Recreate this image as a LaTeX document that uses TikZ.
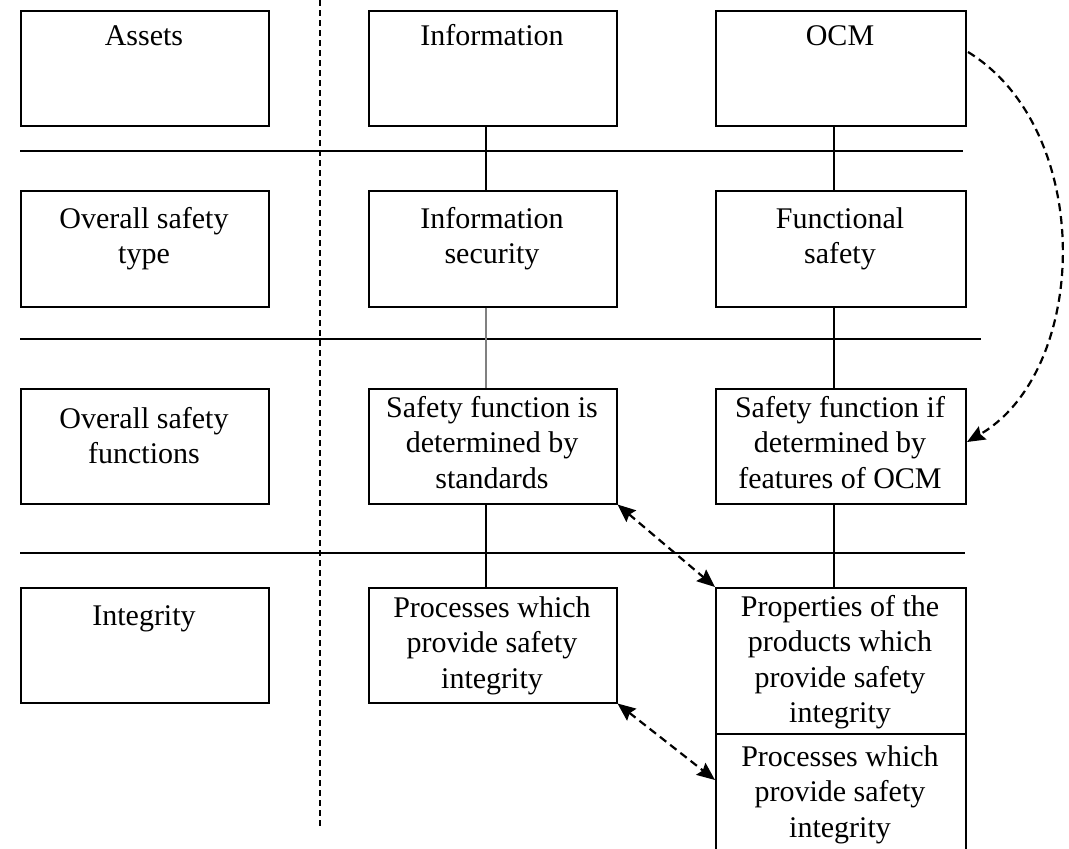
\documentclass[tikz,border=0pt]{standalone}
\usepackage{fontspec}
\setmainfont{Liberation Serif}
\usetikzlibrary{arrows.meta}
\begin{document}
\begin{tikzpicture}[x=1pt,y=-1pt,
  box/.style={draw, line width=1.5pt, rectangle, anchor=north west, inner sep=0pt,
              minimum height=115pt},
  narrow/.style={minimum width=248pt},
  wide/.style={minimum width=250pt},
  lbl/.style={anchor=north, align=center, inner sep=0pt,
              font=\fontsize{30}{35.5}\selectfont},
  rule/.style={line width=1.5pt},
  link/.style={line width=1.5pt},
  dashlink/.style={line width=2.2pt, dash pattern=on 8pt off 5pt},
  headend/.style={-{Stealth[length=18pt,width=15pt,inset=2.5pt]}},
  headboth/.style={{Stealth[length=18pt,width=15pt,inset=2.5pt]}-{Stealth[length=18pt,width=15pt,inset=2.5pt]}},
 ]
\clip (0,0) rectangle (1069,849);
\fill[white] (0,0) rectangle (1069,849);

% separator between the label column and the two domains
\draw[line width=1.6pt, dash pattern=on 6pt off 4pt] (320,0) -- (320,828);

% horizontal row separators
\draw[rule] (20,151) -- (963,151);
\draw[rule] (20,339) -- (981,339);
\draw[rule] (20,553) -- (965,553);

% row 1: assets
\node[box, narrow] (a1) at (20,10) {};
\node[box, narrow] (a2) at (368,10) {};
\node[box, wide]   (a3) at (715,10) {};
\node[lbl] (ta1) at (144,20.15) {\strut Assets};
\node[lbl] (ta2) at (492,20.15) {\strut Information};
\node[lbl] (ta3) at (840,20.15) {\strut OCM};

% row 2: overall safety type
\node[box, narrow, minimum height=116pt] (b1) at (20,190) {};
\node[box, narrow, minimum height=116pt] (b2) at (368,190) {};
\node[box, wide, minimum height=116pt]   (b3) at (715,190) {};
\node[lbl] (tb1) at (144,203.15) {\strut Overall safety\\type};
\node[lbl] (tb2) at (492,203.15) {\strut Information\\security};
\node[lbl] (tb3) at (840,203.15) {\strut Functional\\safety};

% row 3: overall safety functions
\node[box, narrow] (c1) at (20,388) {};
\node[box, narrow] (c2) at (368,388) {};
\node[box, wide]   (c3) at (715,388) {};
\node[lbl] (tc1) at (144,403.15) {\strut Overall safety\\functions};
\node[lbl] (tc2) at (492,392.15) {\strut Safety function is\\determined by\\standards};
\node[lbl] (tc3) at (840,392.15) {\strut Safety function if\\determined by\\features of OCM};

% row 4: integrity
\node[box, narrow] (d1) at (20,587) {};
\node[box, narrow] (d2) at (368,587) {};
\node[box, wide, minimum height=146pt] (d3) at (715,587) {};
\node[box, wide, minimum height=127pt] (e3) at (715,733) {};
\node[lbl] (td1) at (144,600.15) {\strut Integrity};
\node[lbl] (td2) at (492,592.15) {\strut Processes which\\provide safety\\integrity};
\node[lbl] (td3) at (840,591.15) {\strut Properties of the\\products which\\provide safety\\integrity};
\node[lbl] (te3) at (840,741.15) {\strut Processes which\\provide safety\\integrity};

% vertical links inside each domain
\draw[link] ([xshift=-7pt]a2.south) -- ([xshift=-7pt]b2.north);
\draw[link, gray] ([xshift=-7pt]b2.south) -- ([xshift=-7pt]c2.north);
\draw[link] ([xshift=-7pt]c2.south) -- ([xshift=-7pt]d2.north);
\draw[link] ([xshift=-7pt]a3.south) -- ([xshift=-7pt]b3.north);
\draw[link] ([xshift=-7pt]b3.south) -- ([xshift=-7pt]c3.north);
\draw[link] ([xshift=-7pt]c3.south) -- ([xshift=-7pt]d3.north);

% dashed relations between the domains
\coordinate (ocmout) at (968,52);
\coordinate (ocmin) at (967,442);
\draw[dashlink, headend] (ocmout) .. controls (1095,130) and (1090,370) .. (ocmin);
\draw[dashlink, headboth] (c2.south east) -- (d3.north west);
\coordinate (e3in) at (715,780);
\draw[dashlink, headboth] (d2.south east) -- (e3in);
\end{tikzpicture}
\end{document}
